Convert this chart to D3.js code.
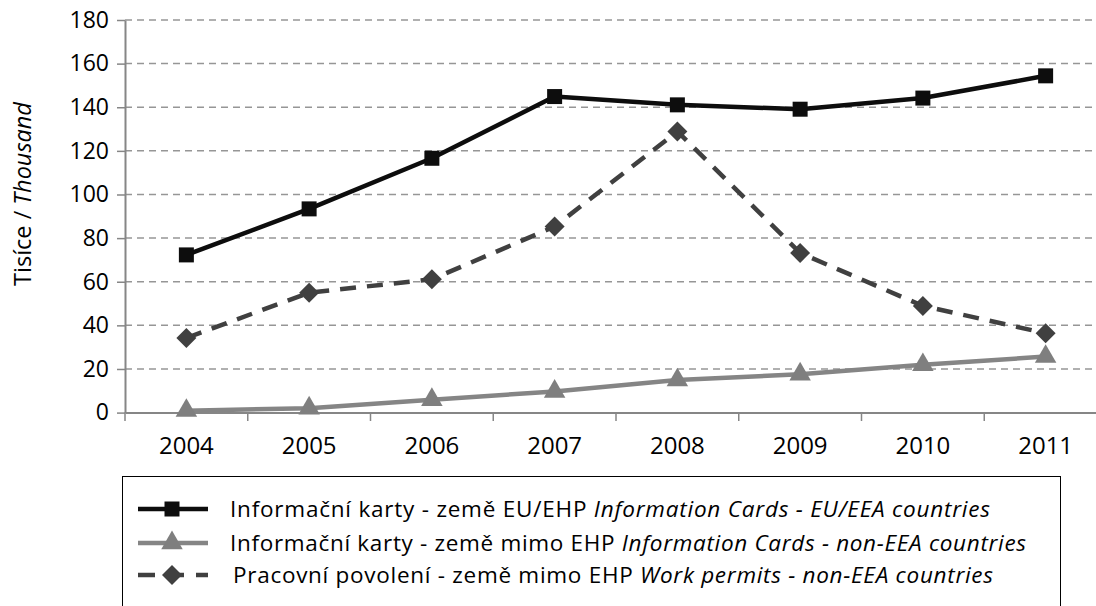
<!DOCTYPE html>
<html>
<head>
<meta charset="utf-8">
<script src="https://cdn.jsdelivr.net/npm/d3@7"></script>
<style>
  body { margin: 0; background: #fff; }
  svg { display: block; font-family: "Open Sans", sans-serif; }
</style>
</head>
<body>
<div id="chart"></div>
<script>
const years = ["2004", "2005", "2006", "2007", "2008", "2009", "2010", "2011"];
const cardsEU = [72.3, 93.4, 116.6, 144.9, 141.1, 139.1, 144.2, 154.4];
const cardsNonEEA = [0.9, 2.0, 5.9, 9.7, 14.9, 17.6, 21.9, 25.7];
const workPermits = [34.2, 55.0, 61.1, 85.3, 128.9, 73.2, 48.9, 36.4];
const yTicks = [0, 20, 40, 60, 80, 100, 120, 140, 160, 180];

const series = [
  { cz: "Informační karty - země EU/EHP ", en: "Information Cards - EU/EEA countries",
    values: cardsEU, color: "#0d0d0d", dash: null, marker: "square", mcolor: "#0d0d0d", legendW: 760 },
  { cz: "Informační karty - země mimo EHP ", en: "Information Cards - non-EEA countries",
    values: cardsNonEEA, color: "#858585", dash: null, marker: "triangle", mcolor: "#7f7f7f", legendW: 796 },
  { cz: "Pracovní povolení - země mimo EHP ", en: "Work permits - non-EEA countries",
    values: workPermits, color: "#404040", dash: "16,11", marker: "diamond", mcolor: "#404040", legendW: 760 }
];

const W = 1096, H = 606;
const svg = d3.select("#chart").append("svg").attr("width", W).attr("height", H);

// plot area runs a bit past the right edge, as in the original crop
const x = d3.scaleBand().domain(years).range([125, 1107]);
const y = d3.scaleLinear().domain([0, 180]).range([412.6, 20]);

function marker(sel, type) {
  if (type === "square") {
    sel.attr("d", d3.symbol().type(d3.symbolSquare).size(225));
  } else if (type === "triangle") {
    sel.attr("d", d3.symbol().type(d3.symbolTriangle).size(200));
  } else {
    sel.attr("d", d3.symbol().type(d3.symbolSquare).size(200))
      .attr("transform", function () { return d3.select(this).attr("transform") + " rotate(45)"; });
  }
}

// gridlines
svg.append("g")
  .selectAll("line")
  .data(yTicks.filter(d => d > 0))
  .join("line")
  .attr("x1", 125).attr("x2", 1107)
  .attr("y1", d => y(d)).attr("y2", d => y(d))
  .attr("stroke", "#969696")
  .attr("stroke-width", 1.5)
  .attr("stroke-dasharray", "7,5");

// y axis
const yAxis = svg.append("g")
  .attr("transform", "translate(125,0)")
  .call(d3.axisLeft(y).tickValues(yTicks).tickSize(8).tickPadding(8).tickSizeOuter(0));
yAxis.select(".domain").attr("stroke", "#868686").attr("stroke-width", 2);
yAxis.selectAll(".tick line").attr("stroke", "#868686").attr("stroke-width", 1.5);
yAxis.selectAll("text").attr("font-size", 23).attr("fill", "#000").attr("font-family", "'Open Sans', sans-serif");

// x axis
const xAxis = svg.append("g")
  .attr("transform", "translate(0,412.6)")
  .call(d3.axisBottom(x).tickSize(0).tickPadding(24));
xAxis.select(".domain").attr("stroke", "#868686").attr("stroke-width", 2);
xAxis.selectAll("text").attr("font-size", 24).attr("fill", "#000").attr("font-family", "'Open Sans', sans-serif");
// category boundary ticks
svg.append("g")
  .selectAll("line")
  .data(years.concat(["end"]))
  .join("line")
  .attr("x1", (d, i) => 125 + i * x.step()).attr("x2", (d, i) => 125 + i * x.step())
  .attr("y1", 412.6).attr("y2", 421)
  .attr("stroke", "#868686").attr("stroke-width", 1.5);

// y title
svg.append("text")
  .attr("transform", "translate(31,194) rotate(-90)")
  .attr("text-anchor", "middle")
  .attr("font-size", 23.5)
  .call(t => {
    t.append("tspan").text("Tisíce / ");
    t.append("tspan").attr("font-style", "italic").text("Thousand");
  });

const cx = d => x(d) + x.bandwidth() / 2;
const line = d3.line().x((d, i) => cx(years[i])).y(d => y(d));

series.forEach(s => {
  svg.append("path")
    .datum(s.values)
    .attr("d", line)
    .attr("fill", "none")
    .attr("stroke", s.color)
    .attr("stroke-width", 4.5)
    .attr("stroke-linejoin", "round")
    .attr("stroke-dasharray", s.dash);
});
series.forEach(s => {
  svg.append("g")
    .selectAll("path")
    .data(s.values)
    .join("path")
    .attr("transform", (d, i) => `translate(${cx(years[i])},${y(d)})`)
    .attr("fill", s.mcolor)
    .call(marker, s.marker);
});

// legend
const lg = svg.append("g");
lg.append("rect")
  .attr("x", 122.5).attr("y", 476.5)
  .attr("width", 938).attr("height", 140)
  .attr("fill", "#fff").attr("stroke", "#000").attr("stroke-width", 1);

const rowY = [509, 543, 575];
series.forEach((s, i) => {
  const g = lg.append("g").attr("transform", `translate(0,${rowY[i]})`);
  g.append("line")
    .attr("x1", 138).attr("x2", 208)
    .attr("stroke", s.color).attr("stroke-width", 4.5)
    .attr("stroke-dasharray", s.dash ? "17,12" : null);
  g.append("path")
    .attr("transform", "translate(172,0)")
    .attr("fill", s.mcolor)
    .call(marker, s.marker);
  const x0 = i === 2 ? 233 : 230;
  const t = g.append("text")
    .attr("x", x0).attr("y", 8)
    .attr("font-size", 22.5).attr("fill", "#000");
  t.append("tspan").text(s.cz);
  t.append("tspan").attr("font-style", "italic").text(s.en);
  const w = t.node().getComputedTextLength();
  if (w > 0) t.attr("textLength", s.legendW).attr("lengthAdjust", "spacing");
});
</script>
</body>
</html>
